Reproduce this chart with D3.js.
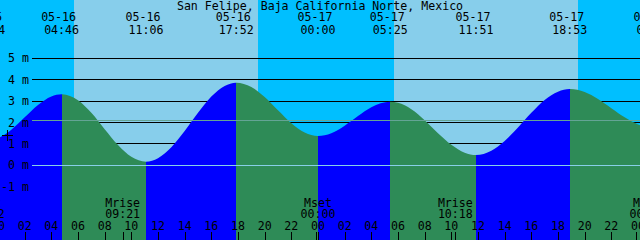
<!DOCTYPE html>
<meta charset="utf-8" />
<script src="https://d3js.org/d3.v7.min.js"></script>
<body style="margin: 0; background-color: #87ceeb">
  <div id="tide"></div>
  <script>
    // hours counted from 05-16 00:00
    var sampleHours = [-2, -0.77, 0, 1, 2, 3, 4, 4.77, 6, 7, 8, 9, 10, 11.1, 12, 13, 14, 15, 16, 17, 17.87,
      19, 20, 21, 22, 23, 24, 25, 26, 27, 28, 29.42, 30, 31, 32, 33, 34, 35, 35.85, 37, 38, 39, 40, 41, 42,
      42.88, 44, 45, 46, 47, 48, 49];
    var sampleLevels = [1.35, 1.17, 1.27, 1.66, 2.24, 2.82, 3.22, 3.32, 3.04, 2.45, 1.69, 0.95, 0.4, 0.17,
      0.33, 0.84, 1.6, 2.45, 3.21, 3.71, 3.86, 3.66, 3.19, 2.57, 1.97, 1.53, 1.37, 1.5, 1.85, 2.3, 2.71,
      2.97, 2.92, 2.62, 2.11, 1.5, 0.96, 0.59, 0.48, 0.68, 1.14, 1.77, 2.45, 3.05, 3.44, 3.56, 3.42, 3.1,
      2.67, 2.24, 1.91, 1.76];

    var tideHours = [-0.77, 4.77, 11.1, 17.87, 24, 29.42, 35.85, 42.88, 49.2];
    var tideLevels = [1.17, 3.32, 0.17, 3.86, 1.37, 2.97, 0.48, 3.56, 1.75];
    var tideDates = ["05-15", "05-16", "05-16", "05-16", "05-17", "05-17", "05-17", "05-17", "05-18"];
    var tideClock = ["23:14", "04:46", "11:06", "17:52", "00:00", "05:25", "11:51", "18:53", "01:12"];

    var sunrise = [5.7, 29.7];
    var sunset = [19.5, 43.48];

    var moonHours = [-0.8, 9.35, 24, 34.3, 48.67];
    var moonKinds = ["Mset", "Mrise", "Mset", "Mrise", "Mset"];
    var moonClock = ["23:12", "09:21", "00:00", "10:18", "00:40"];

    var meterTicks = [5, 4, 3, 2, 1, 0, -1];
    var mslLevel = 2.08;
    var hourTicks = d3.range(0, 49, 2);

    var title = "San Felipe, Baja California Norte, Mexico";
    var font = "'DejaVu Sans Mono', monospace";

    var width = 640,
      height = 240;

    var svg = d3
      .select("#tide")
      .append("svg")
      .attr("width", width)
      .attr("height", height)
      .style("display", "block");

    var x = d3.scaleLinear().domain([0, 48]).range([-2, 638]);
    var y = d3.scaleLinear().domain([0, 5]).range([165.3, 58.3]);

    // night / day background
    var nights = [[-3, sunrise[0]], [sunset[0], sunrise[1]], [sunset[1], 50]];
    svg.append("rect").attr("width", width).attr("height", height).attr("fill", "#87ceeb");
    svg
      .selectAll(".night")
      .data(nights)
      .enter()
      .append("rect")
      .attr("x", function (d) { return Math.round(x(d[0])); })
      .attr("width", function (d) { return Math.round(x(d[1])) - Math.round(x(d[0])); })
      .attr("y", 0)
      .attr("height", height)
      .attr("fill", "#00bfff")
      .attr("shape-rendering", "crispEdges");

    // meter lines
    svg
      .selectAll(".grid")
      .data(meterTicks)
      .enter()
      .append("line")
      .attr("x1", 32)
      .attr("x2", width)
      .attr("y1", function (d) { return Math.floor(y(d)) + 0.5; })
      .attr("y2", function (d) { return Math.floor(y(d)) + 0.5; })
      .attr("stroke", "#000");

    // tide fill, blue while rising, green while falling
    var pts = sampleHours.map(function (h, i) { return [h, sampleLevels[i]]; });
    var area = d3
      .area()
      .x(function (d) { return x(d[0]); })
      .y0(height)
      .y1(function (d) { return y(d[1]); })
      .curve(d3.curveMonotoneX);

    for (var i = 0; i < tideHours.length - 1; i++) {
      var rising = tideLevels[i + 1] > tideLevels[i];
      var x0 = Math.round(x(tideHours[i])),
        x1 = Math.round(x(tideHours[i + 1]));
      svg
        .append("clipPath")
        .attr("id", "seg" + i)
        .append("rect")
        .attr("x", x0)
        .attr("y", 0)
        .attr("width", x1 - x0)
        .attr("height", height);
      svg
        .append("path")
        .datum(pts)
        .attr("d", area)
        .attr("clip-path", "url(#seg" + i + ")")
        .attr("fill", rising ? "#0000ff" : "#2e8b57");
    }

    // mean sea level and datum lines
    svg
      .append("line")
      .attr("x1", 32)
      .attr("x2", width)
      .attr("y1", Math.floor(y(mslLevel)) + 0.5)
      .attr("y2", Math.floor(y(mslLevel)) + 0.5)
      .attr("stroke", "#64a495");
    svg
      .append("line")
      .attr("x1", 32)
      .attr("x2", width)
      .attr("y1", Math.floor(y(0)) + 0.5)
      .attr("y2", Math.floor(y(0)) + 0.5)
      .attr("stroke", "#88cfe8");

    // meter labels
    svg
      .selectAll(".ylab")
      .data(meterTicks)
      .enter()
      .append("text")
      .attr("x", 29)
      .attr("y", function (d) { return y(d) + 4; })
      .attr("text-anchor", "end")
      .style("font-family", font)
      .style("font-size", "11.6px")
      .text(function (d) { return d + " m"; });

    svg.append("line").attr("x1", 2).attr("x2", 13).attr("y1", 135.5).attr("y2", 135.5).attr("stroke", "#000");
    svg.append("line").attr("x1", 7.5).attr("x2", 7.5).attr("y1", 130).attr("y2", 141).attr("stroke", "#000");

    // title and tide event labels
    svg
      .append("text")
      .attr("x", width / 2)
      .attr("y", 9.5)
      .attr("text-anchor", "middle")
      .style("font-family", font)
      .style("font-size", "11.6px")
      .text(title);

    var ev = svg.selectAll(".ev").data(tideHours).enter().append("g");
    ev.append("text")
      .attr("x", function (d) { return x(d) - 3; })
      .attr("y", 21)
      .attr("text-anchor", "middle")
      .style("font-family", font)
      .style("font-size", "11.6px")
      .text(function (d, i) { return tideDates[i]; });
    ev.append("text")
      .attr("x", function (d) { return x(d); })
      .attr("y", 33.5)
      .attr("text-anchor", "middle")
      .style("font-family", font)
      .style("font-size", "11.6px")
      .text(function (d, i) { return tideClock[i]; });

    // moon events
    var mo = svg.selectAll(".moon").data(moonHours).enter().append("g");
    mo.append("text")
      .attr("x", function (d) { return x(d); })
      .attr("y", 206.5)
      .attr("text-anchor", "middle")
      .style("font-family", font)
      .style("font-size", "11.6px")
      .text(function (d, i) { return moonKinds[i]; });
    mo.append("text")
      .attr("x", function (d) { return x(d); })
      .attr("y", 218)
      .attr("text-anchor", "middle")
      .style("font-family", font)
      .style("font-size", "11.6px")
      .text(function (d, i) { return moonClock[i]; });
    mo.append("line")
      .attr("x1", function (d) { return Math.round(x(d)) + 0.5; })
      .attr("x2", function (d) { return Math.round(x(d)) + 0.5; })
      .attr("y1", 232)
      .attr("y2", height)
      .attr("stroke", "#000");

    // hour axis
    var hr = svg.selectAll(".hr").data(hourTicks).enter().append("g");
    hr.append("text")
      .attr("x", function (d) { return x(d); })
      .attr("y", 229.5)
      .attr("text-anchor", "middle")
      .style("font-family", font)
      .style("font-size", "11.6px")
      .text(function (d) { return d3.format("02")(d % 24); });
    hr.append("line")
      .attr("x1", function (d) { return Math.round(x(d)) - (d % 24 === 0 ? 1.5 : -0.5); })
      .attr("x2", function (d) { return Math.round(x(d)) - (d % 24 === 0 ? 1.5 : -0.5); })
      .attr("y1", 232)
      .attr("y2", height)
      .attr("stroke", "#000");
  </script>
</body>
